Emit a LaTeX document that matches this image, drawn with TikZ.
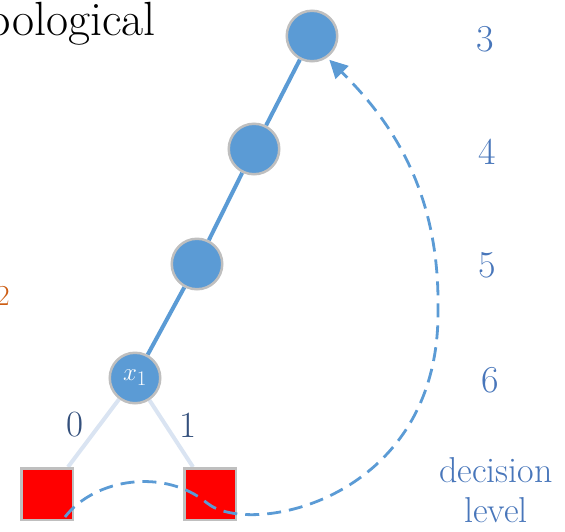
\documentclass[tikz,border=0pt]{standalone}
\usepackage{fontspec}
\usetikzlibrary{arrows.meta,positioning,backgrounds}
\definecolor{nodeblue}{RGB}{91,155,213}
\definecolor{rimgray}{RGB}{191,191,191}
\definecolor{lvlblue}{RGB}{72,118,186}
\definecolor{edgeblue}{RGB}{218,228,242}
\definecolor{bitslate}{RGB}{52,80,124}
\definecolor{tagorange}{RGB}{204,92,18}
\begin{document}
\begin{tikzpicture}[x=1pt,y=-1pt,
 var/.style={circle,fill=nodeblue,draw=rimgray,line width=2.5pt,minimum size=50.5pt,inner sep=0pt},
 leaf/.style={rectangle,fill=red,draw=rimgray,line width=2.5pt,minimum size=51.5pt,inner sep=0pt},
 lvl/.style={text=lvlblue,font=\fontsize{38}{40}\selectfont,inner sep=0pt},
 bit/.style={text=bitslate,font=\fontsize{37}{40}\selectfont,inner sep=0pt},
 chain/.style={nodeblue,line width=4pt},
 branch/.style={edgeblue,line width=4pt},
 backjump/.style={nodeblue,line width=2.8pt,dash pattern=on 14pt off 8pt,
  -{Triangle[length=18pt,width=18pt]},shorten >=3pt}]
\useasboundingbox (0,0) rectangle (565,531);
\clip (0,0) rectangle (565,531);
% cut-off caption pieces
\node[anchor=base east,inner sep=0pt,font=\fontsize{48}{50}\selectfont] (title) at (156,35) {Topological};
\node[anchor=base east,inner sep=0pt,text=tagorange,font=\fontsize{29}{30}\selectfont] (tag) at (10,305) {2};
% variables on the trail
\node[var] (top) at (312,36) {};
\node[var] (mid) at (254,149) {};
\node[var] (low) at (197,264) {};
\node[var,text=white,font=\fontsize{32}{34}\selectfont] (x1) at (135,378) {$x_1$};
\node[leaf] (sqL) at (47,494) {};
\node[leaf] (sqR) at (210,494) {};
\node[bit] (b0) at (75,425) {0};
\node[bit] (b1) at (188,425) {1};
% decision levels
\node[lvl] (l3) at (485,39) {3};
\node[lvl] (l4) at (487,152) {4};
\node[lvl] (l5) at (487,265) {5};
\node[lvl] (l6) at (490,380) {6};
\node[text=lvlblue,font=\fontsize{36}{40}\selectfont,align=center,inner sep=0pt] (dl) at (496,490) {decision\\level};
\begin{scope}[on background layer]
\draw[chain] (x1) -- (low) -- (mid) -- (top);
\draw[branch] (x1) -- ([xshift=-6pt]sqL.north east);
\draw[branch] (x1) -- ([xshift=10pt]sqR.north west);
\end{scope}
\draw[backjump] ([shift={(-9,-4)}]sqL.south east) .. controls (95,478) and (165,468) .. (207,503)
 .. controls (250,538) and (440,500) .. (438,310)
 .. controls (440,190) and (390,120) .. (top.-55);
\end{tikzpicture}
\end{document}
